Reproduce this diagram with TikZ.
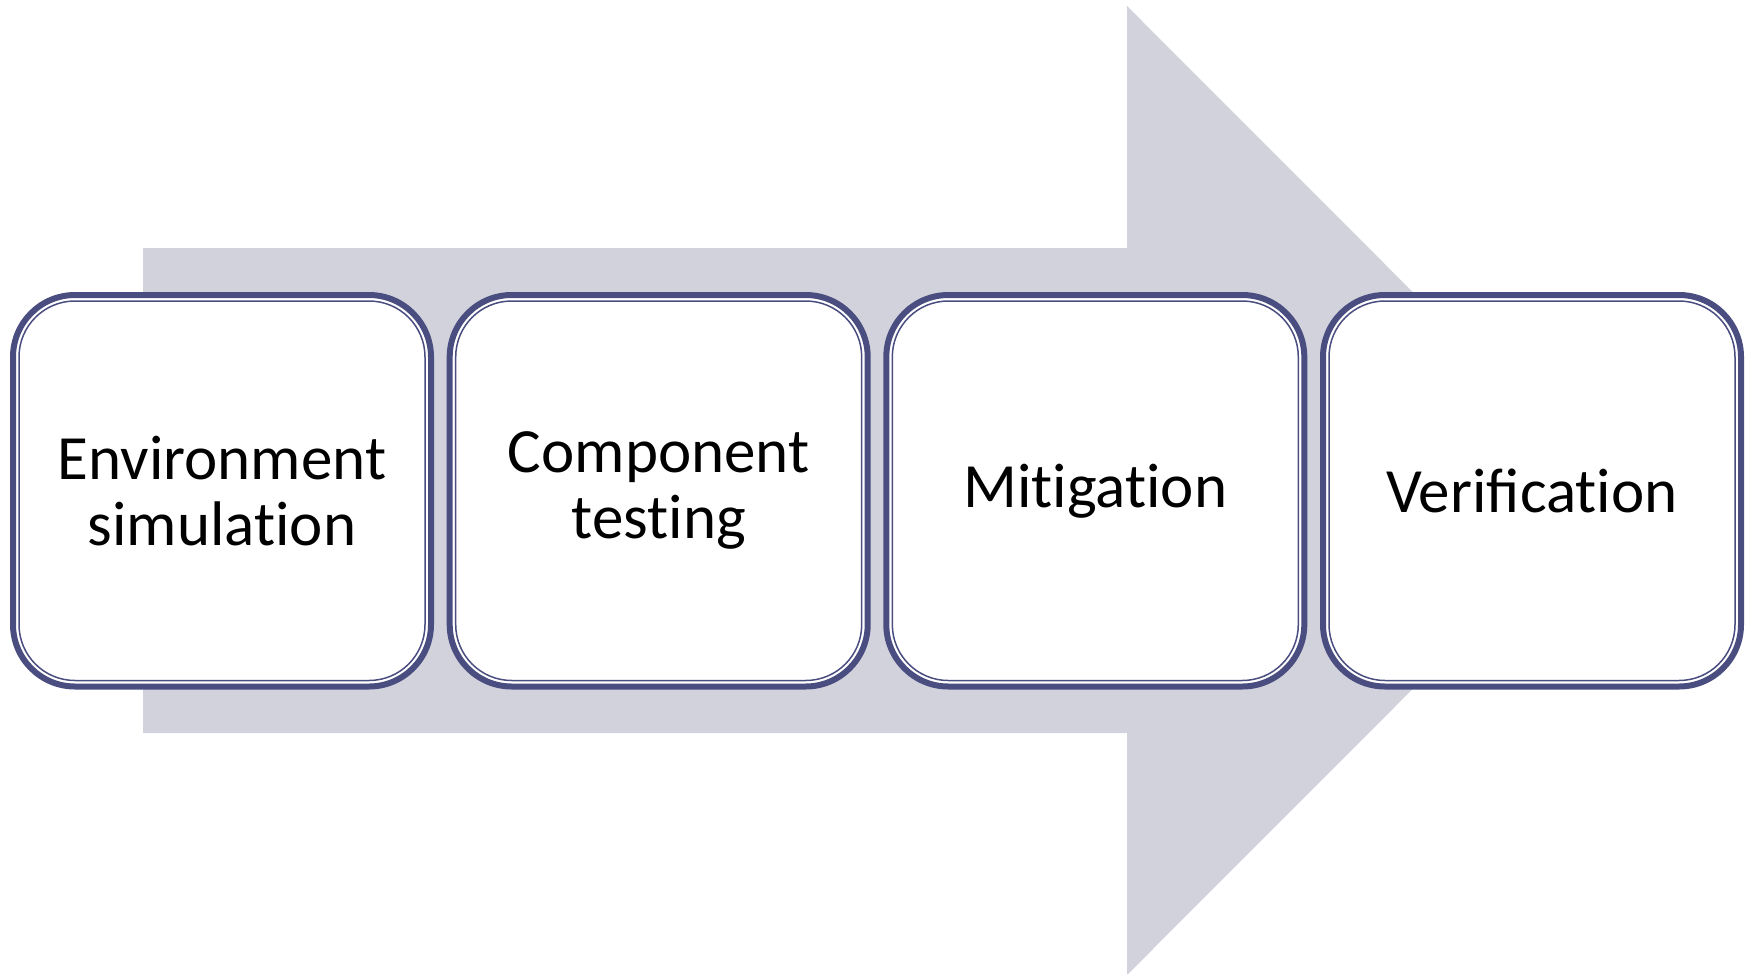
\documentclass[tikz,border=0pt]{standalone}
\usepackage{fontspec}
\setmainfont{Carlito}
\definecolor{arrowgray}{HTML}{D1D2DB}
\definecolor{boxblue}{HTML}{4A4D7F}
\newcommand{\tibreak}{t\kern0pt i}
\tikzset{
  stage/.style={draw=boxblue, line width=6pt, fill=white, rounded corners=62pt,
    minimum width=418pt, minimum height=391.5pt, outer sep=0pt, inner sep=0pt,
    align=center, text=black, font=\fontsize{63}{66}\selectfont},
  innerline/.style={draw=boxblue, line width=1.5pt, rounded corners=56pt}
}
\begin{document}
\begin{tikzpicture}[x=1pt,y=-1pt]
\useasboundingbox (0,0) rectangle (1753,974);
\fill[white] (0,0) rectangle (1753,974);
\begin{scope}
\clip (0,0) rectangle (1753,974);
\fill[arrowgray] (143,248) -- (1127,248) -- (1127,6) -- (1611,490.5) -- (1127,975) -- (1127,733) -- (143,733) -- cycle;
\end{scope}
\node[stage] (b1) at (222,490.75) {Environment\\simula\tibreak on};
\node[stage] (b2) at (658.7,490.75) {Component\\tes\tibreak ng};
\node[stage] (b3) at (1095.3,490.75) {Mi\tibreak ga\tibreak on};
\node[stage] (b4) at (1532,490.75) {Verifica\tibreak on};
\foreach \b in {b1,b2,b3,b4}{
  \draw[innerline] ([shift={(6,6)}]\b.north west) rectangle ([shift={(-6,-6)}]\b.south east);
}
\end{tikzpicture}
\end{document}
